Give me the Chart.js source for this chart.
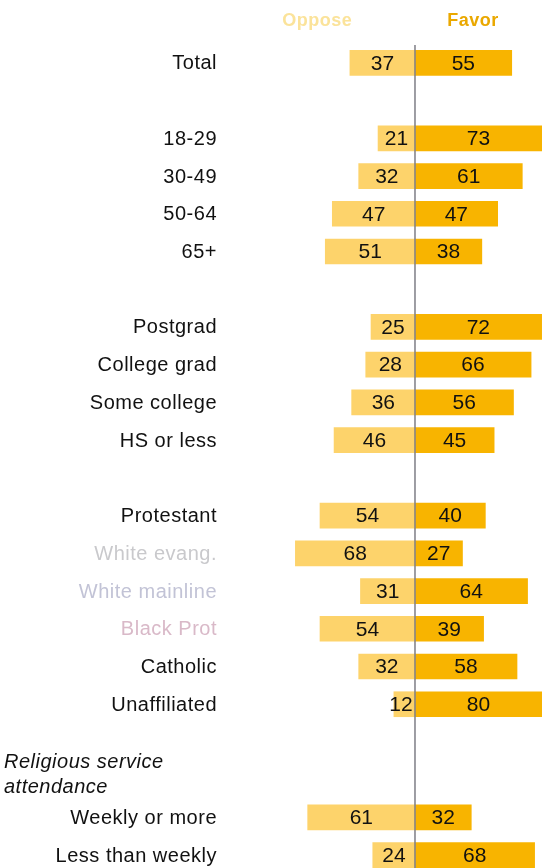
<!DOCTYPE html>
<html>
<head>
<meta charset="utf-8">
<script src="https://cdn.jsdelivr.net/npm/chart.js@4.4.1/dist/chart.umd.min.js"></script>
<style>
  html, body { margin: 0; padding: 0; background: #ffffff; overflow: hidden; }
  #wrap { width: 542px; height: 894px; }
</style>
</head>
<body>
<div id="wrap"><canvas id="c" width="542" height="894"></canvas></div>
<script>
// ---- Data ----
const categories = [
  'Total', '',
  '18-29', '30-49', '50-64', '65+', '',
  'Postgrad', 'College grad', 'Some college', 'HS or less', '',
  'Protestant', 'White evang.', 'White mainline', 'Black Prot', 'Catholic', 'Unaffiliated', '', '',
  'Weekly or more', 'Less than weekly'
];
const opposeValues = [37, null, 21, 32, 47, 51, null, 25, 28, 36, 46, null, 54, 68, 31, 54, 32, 12, null, null, 61, 24];
const favorValues  = [55, null, 73, 61, 47, 38, null, 72, 66, 56, 45, null, 40, 27, 64, 39, 58, 80, null, null, 32, 68];
const seriesNames = ['Oppose', 'Favor'];
const groupHeader = ['Religious service', 'attendance'];

// ---- Styles ----
const labelColors = categories.map(c => {
  if (c === 'White evang.') return '#c9c9cc';
  if (c === 'White mainline') return '#c2c3d6';
  if (c === 'Black Prot') return '#d9b9c8';
  return '#111111';
});
const opposeColor = '#fdd36b';
const favorColor = '#f8b400';
const FONT = '"Liberation Sans", Arial, sans-serif';

const spacing = {
  id: 'spacing',
  beforeDraw(chart) { chart.ctx.letterSpacing = '0.5px'; }
};

const overlay = {
  id: 'overlay',
  afterDatasetsDraw(chart) {
    const ctx = chart.ctx;
    const xs = chart.scales.x, ys = chart.scales.y;
    const area = chart.chartArea;
    const x0 = xs.getPixelForValue(0);
    ctx.save();
    // center line
    ctx.strokeStyle = '#7d7d85';
    ctx.lineWidth = 1.5;
    ctx.beginPath();
    ctx.moveTo(x0, area.top + 1);
    ctx.lineTo(x0, chart.height);
    ctx.stroke();
    // value labels
    ctx.letterSpacing = '0px';
    ctx.font = '21px ' + FONT;
    ctx.fillStyle = '#111111';
    ctx.textAlign = 'center';
    ctx.textBaseline = 'middle';
    chart.data.datasets.forEach((ds, di) => {
      const meta = chart.getDatasetMeta(di);
      meta.data.forEach((bar, i) => {
        const v = ds.raw[i];
        if (v == null) return;
        const l = Math.max(Math.min(bar.x, bar.base), area.left);
        const r = Math.min(Math.max(bar.x, bar.base), area.right);
        let cx = (l + r) / 2;
        if (di === 0 && r - l < 26) cx = r - 14;
        ctx.fillText(String(v), cx, bar.y + 1);
      });
    });
    // column headers
    ctx.letterSpacing = '0.5px';
    ctx.font = 'bold 18px ' + FONT;
    ctx.textBaseline = 'middle';
    ctx.fillStyle = '#fbe39a';
    ctx.fillText(seriesNames[0], xs.getPixelForValue(-55.5), 21);
    ctx.fillStyle = '#eaa800';
    ctx.fillText(seriesNames[1], xs.getPixelForValue(33), 21);
    // group header
    ctx.font = 'italic 20px ' + FONT;
    ctx.fillStyle = '#111111';
    ctx.textAlign = 'left';
    const yh = ys.getPixelForValue(19);
    ctx.fillText(groupHeader[0], 4, yh - 17);
    ctx.fillText(groupHeader[1], 4, yh + 8);
    ctx.restore();
  }
};

new Chart(document.getElementById('c'), {
  type: 'bar',
  data: {
    labels: categories,
    datasets: [
      { label: seriesNames[0], raw: opposeValues, data: opposeValues.map(v => v == null ? null : -v),
        backgroundColor: opposeColor, barThickness: 25, stack: 's' },
      { label: seriesNames[1], raw: favorValues, data: favorValues,
        backgroundColor: favorColor, barThickness: 25, stack: 's' }
    ]
  },
  options: {
    indexAxis: 'y',
    responsive: false,
    animation: false,
    layout: { padding: { top: 44, left: 0, right: 0, bottom: 0 } },
    plugins: { legend: { display: false }, tooltip: { enabled: false } },
    scales: {
      x: {
        stacked: true, display: false, min: -108, max: 72.2
      },
      y: {
        stacked: true,
        grid: { display: false, drawTicks: false },
        border: { display: false },
        ticks: {
          padding: 8,
          labelOffset: 1,
          autoSkip: false,
          color: ctx => labelColors[ctx.index],
          font: { family: FONT, size: 20 }
        },
        afterFit(scale) { scale.width = 225; }
      }
    }
  },
  plugins: [spacing, overlay]
});
</script>
</body>
</html>
